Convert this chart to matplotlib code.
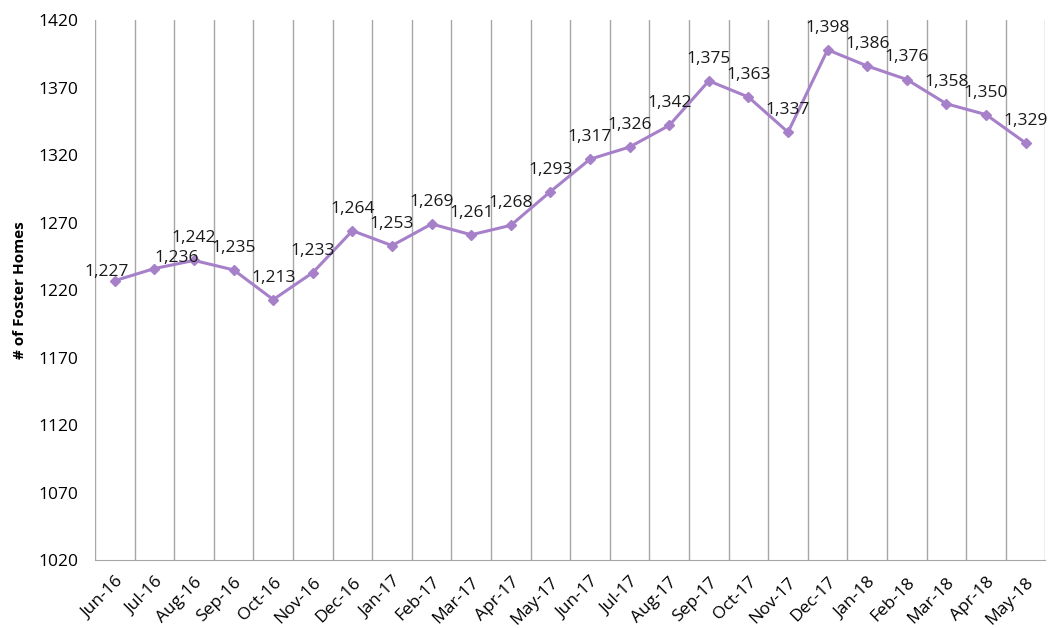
import numpy as np
import matplotlib.pyplot as plt

months = ['Jun-16', 'Jul-16', 'Aug-16', 'Sep-16', 'Oct-16', 'Nov-16', 'Dec-16',
          'Jan-17', 'Feb-17', 'Mar-17', 'Apr-17', 'May-17', 'Jun-17', 'Jul-17',
          'Aug-17', 'Sep-17', 'Oct-17', 'Nov-17', 'Dec-17', 'Jan-18', 'Feb-18',
          'Mar-18', 'Apr-18', 'May-18']
homes = [1227, 1236, 1242, 1235, 1213, 1233, 1264, 1253, 1269, 1261, 1268, 1293,
         1317, 1326, 1342, 1375, 1363, 1337, 1398, 1386, 1376, 1358, 1350, 1329]

purple = '#A680C9'
plt.rcParams['font.family'] = ['Open Sans', 'DejaVu Sans']

fig = plt.figure(figsize=(10.49, 6.28), dpi=100)
ax = fig.add_axes([0.0906, 0.108, 0.906, 0.86])

x = np.arange(len(months))
ax.plot(x, homes, color=purple, lw=2.2, marker='D', ms=5.5, mfc=purple, mec=purple)

# label nudges (points) for the first two, like the original
nudge = {0: (-6, 3.5), 1: (16, 5)}
for i, (xi, v) in enumerate(zip(x, homes)):
    off = nudge.get(i, (0, 13))
    ax.annotate(f'{v:,}', (xi, v), textcoords='offset points', xytext=off,
                ha='center', va='baseline', fontsize=12.5, color='#1a1a1a')

ax.set_xlim(-0.5, len(months) - 0.5)
ax.set_ylim(1020, 1420)
ax.set_yticks(np.arange(1020, 1421, 50))
ax.set_xticks(x)
ax.set_xticklabels(months, rotation=45, ha='right', rotation_mode='anchor', fontsize=12.5)
ax.tick_params(axis='y', labelsize=12.5, length=0, pad=12)
ax.tick_params(axis='x', length=0, pad=10)

# vertical gridlines on category boundaries
for b in np.arange(-0.5, len(months), 1.0):
    ax.axvline(b, color='#a6a6a6', lw=1, zorder=0)

for s in ['top', 'right', 'left']:
    ax.spines[s].set_visible(False)
ax.spines['bottom'].set_color('#a6a6a6')

ax.set_ylabel('# of Foster Homes', fontsize=11, fontweight='bold', labelpad=8)

fig.savefig('out.png', dpi=100)
